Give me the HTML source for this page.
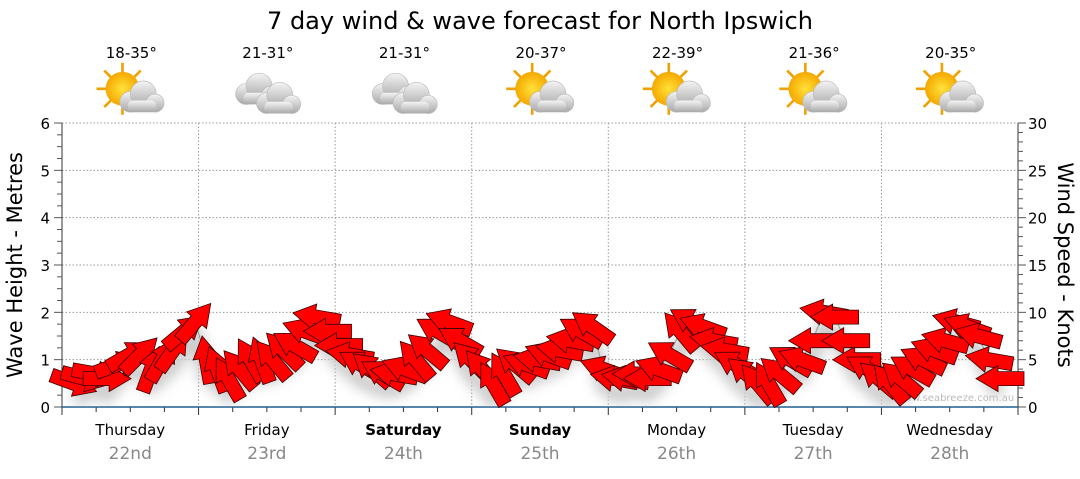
<!DOCTYPE html>
<html><head><meta charset="utf-8"><style>
body{margin:0;background:#fff;width:1080px;height:475px;overflow:hidden;font-family:"DejaVu Sans","Liberation Sans",sans-serif}
</style></head><body>
<svg id="s" width="1080" height="475" xmlns="http://www.w3.org/2000/svg" font-family="DejaVu Sans, Liberation Sans, sans-serif">
<defs>
<filter id="bl"><feGaussianBlur stdDeviation="6"/></filter>
<radialGradient id="sun"><stop offset="0" stop-color="#ffe23a"/><stop offset="1" stop-color="#f5a800"/></radialGradient>
<linearGradient id="cl" x1="0" y1="0" x2="0" y2="1"><stop offset="0" stop-color="#f4f4f4"/><stop offset="1" stop-color="#a8a8a8"/></linearGradient>
<g id="cloud"><circle cx="-8" cy="4" r="8" fill="url(#cl)" stroke="#bbb" stroke-width=".5"/><circle cx="2" cy="-2" r="10" fill="url(#cl)" stroke="#bbb" stroke-width=".5"/><circle cx="11" cy="5" r="7" fill="url(#cl)" stroke="#bbb" stroke-width=".5"/><rect x="-10" y="3" width="22" height="9" rx="4" fill="url(#cl)"/></g>
<g id="sunny"><g stroke="#f0a000" stroke-width="2"><line x1="-6" y1="-24" x2="-6" y2="16"/><line x1="-26" y1="-4" x2="14" y2="-4"/><line x1="-20" y1="-18" x2="8" y2="10"/><line x1="8" y1="-18" x2="-20" y2="10"/></g><circle cx="-6" cy="-4" r="13" fill="url(#sun)"/><use href="#cloud" x="8" y="2"/></g>
<g id="clouds"><use href="#cloud" x="-8" y="-4"/><use href="#cloud" x="8" y="3"/></g>
</defs>
<text x="540" y="29" text-anchor="middle" font-size="24" fill="#000">7 day wind &amp; wave forecast for North Ipswich</text>
<g id="g"></g>
</svg>
<script>
const s=document.getElementById('g');let h='';
const X0=62,X1=1018,Y0=407,Y1=123,DW=(X1-X0)/7;
const mY=v=>Y0-v*(Y0-Y1)/6;
for(let i=1;i<=6;i++){const y=mY(i);h+=`<line x1="${X0}" y1="${y}" x2="${X1}" y2="${y}" stroke="#999" stroke-dasharray="1.5,2"/>`;}
for(let d=1;d<7;d++){const x=X0+d*DW;h+=`<line x1="${x}" y1="${Y1}" x2="${x}" y2="${Y0}" stroke="#999" stroke-dasharray="1.5,2"/>`;}
h+=`<line x1="${X0}" y1="${Y1}" x2="${X0}" y2="${Y0}" stroke="#333"/><line x1="${X1}" y1="${Y1}" x2="${X1}" y2="${Y0}" stroke="#333"/>`;
for(let i=0;i<=24;i++){const y=mY(i/4);const L=i%4==0?8:5;h+=`<line x1="${X0-L}" y1="${y}" x2="${X0}" y2="${y}" stroke="#555"/>`;if(i%4==0)h+=`<text x="${X0-12}" y="${y+6}" font-size="15" text-anchor="end">${i/4}</text>`;}
for(let k=0;k<=30;k++){const y=Y0-k*(Y0-Y1)/30;const L=k%5==0?8:5;h+=`<line x1="${X1}" y1="${y}" x2="${X1+L}" y2="${y}" stroke="#555"/>`;if(k%5==0)h+=`<text x="${X1+10}" y="${y+6}" font-size="15">${k}</text>`;}
for(let i=0;i<=28;i++){const x=X0+i*DW/4;h+=`<line x1="${x}" y1="${Y0}" x2="${x}" y2="${Y0+(i%4==0?8:5)}" stroke="#333"/>`;}
h+=`<line x1="${X0}" y1="${Y0}" x2="${X1}" y2="${Y0}" stroke="#1f5f8f" stroke-width="1.5"/>`;
h+=`<text transform="translate(22,265) rotate(-90)" font-size="21" text-anchor="middle">Wave Height - Metres</text>`;
h+=`<text transform="translate(1058,265) rotate(90)" font-size="21" text-anchor="middle">Wind Speed - Knots</text>`;
const days=['Thursday','Friday','Saturday','Sunday','Monday','Tuesday','Wednesday'],dates=['22nd','23rd','24th','25th','26th','27th','28th'],temps=['18-35°','21-31°','21-31°','20-37°','22-39°','21-36°','20-35°'],ic=['sunny','clouds','clouds','sunny','sunny','sunny','sunny'];
days.forEach((d,i)=>{const cx=X0+(i+.5)*DW;const b=(i==2||i==3)?'bold':'normal';
h+=`<text x="${cx}" y="435" font-size="15" text-anchor="middle" font-weight="${b}">${d}</text><text x="${cx}" y="459" font-size="17" fill="#888" text-anchor="middle">${dates[i]}</text>`;
h+=`<text x="${cx+1}" y="58" font-size="15" text-anchor="middle">${temps[i]}</text><use href="#${ic[i]}" transform="translate(${cx},94) scale(1.3)"/>`;});
h+=`<text x="955" y="401" font-size="10" fill="#bbb" text-anchor="middle">www.seabreeze.com.au</text>`;
const W=[[2.5,20],[3,15],[3.5,10],[3,0],[4.5,-20],[5.5,-30],[5.5,-45],[4,-70],[5,-60],[6,-55],[8,-40],[9,-50],
[5,-100],[4,-110],[3,-120],[4,-130],[5,-120],[5,-110],[5,-130],[6,-135],[6.5,-150],[8,-160],[9.5,-170],[8,-180],
[6.5,-180],[5.5,-170],[4.5,-150],[4,-140],[3.5,-150],[3.5,-170],[4,-160],[5,-130],[6,-140],[8,-150],[9,-160],[7,-150],
[5,-135],[4,-130],[2.5,-120],[3.5,-120],[4.5,-140],[4.5,-160],[5,-170],[5.5,-160],[6,-170],[7,-170],[8,-150],[8.5,-145],
[4,-160],[3,-170],[3,-170],[3.5,-180],[3,-180],[4,-160],[5.5,-150],[8,-130],[9,-150],[8.5,-160],[7,-170],[6,-170],
[4.5,-150],[3.5,-140],[2.5,-130],[2.5,-120],[3.5,-140],[5,-150],[5,-160],[7,-180],[10,-170],[9.5,-180],[7,-180],[5,-180],
[4,-150],[3,-140],[2.5,-130],[3,-140],[4,-150],[5,-155],[6,-160],[7,-165],[9,-165],[8.5,-160],[7.5,-165],[5,-170],[3,-180]];
const n=W.length;let pts=[];
W.forEach((w,i)=>{const x=X0+12+i*(X1-X0-30)/(n-1);const y=Y0-w[0]*(Y0-Y1)/30;pts.push([x,y,w[1]]);});
h+=`<polyline points="${pts.map(p=>p[0]+','+(p[1]+16)).join(' ')}" fill="none" stroke="#ccc" stroke-width="16" filter="url(#bl)"/>`;
h+=`<polyline points="${pts.map(p=>p[0]+','+p[1]).join(' ')}" fill="none" stroke="#999" stroke-width="1"/>`;
pts.forEach(p=>{h+=`<polygon transform="translate(${p[0].toFixed(1)},${p[1].toFixed(1)}) rotate(${p[2]})" points="-24,-7 2,-7 2,-13 24,0 2,13 2,7 -24,7" fill="#ff0000" stroke="#3a0000" stroke-width="0.8"/>`;});
s.innerHTML=h;
</script>
</body></html>
